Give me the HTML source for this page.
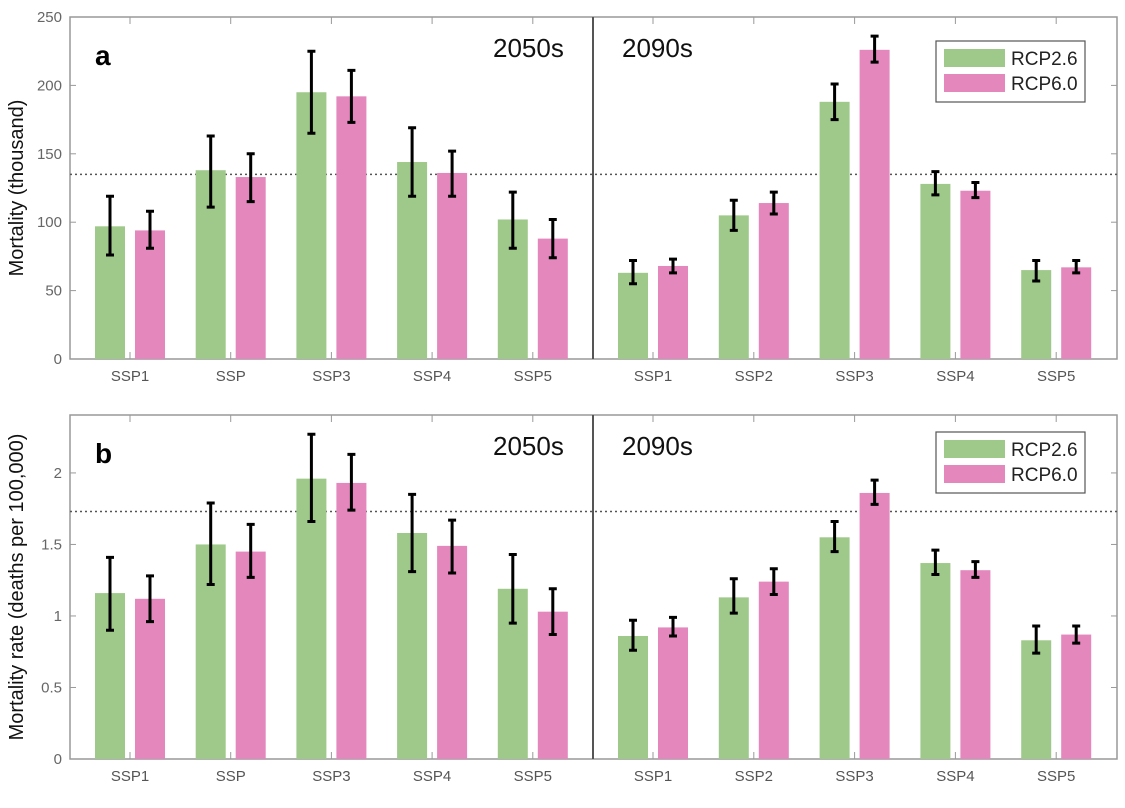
<!DOCTYPE html>
<html><head><meta charset="utf-8"><style>
body{margin:0;background:#fff;}
svg{display:block;font-family:"Liberation Sans",sans-serif;}
</style></head><body>
<svg id="chart" width="1125" height="808" viewBox="0 0 1125 808" xmlns="http://www.w3.org/2000/svg"></svg>
<script>
const categoriesLeft = ["SSP1","SSP","SSP3","SSP4","SSP5"];
const categoriesRight = ["SSP1","SSP2","SSP3","SSP4","SSP5"];
const series = ["RCP2.6","RCP6.0"];
// panel a (thousand)
const aTicks = [0,50,100,150,200,250];
const aG50 = [97,138,195,144,102];
const aG50lo = [76,111,165,119,81];
const aG50hi = [119,163,225,169,122];
const aP50 = [94,133,192,136,88];
const aP50lo = [81,115,173,119,74];
const aP50hi = [108,150,211,152,102];
const aG90 = [63,105,188,128,65];
const aG90lo = [55,94,175,120,57];
const aG90hi = [72,116,201,137,72];
const aP90 = [68,114,226,123,67];
const aP90lo = [63,106,217,118,63];
const aP90hi = [73,122,236,129,72];
const aRef = 135;
// panel b (deaths per 100,000)
const bTicks = [0,0.5,1,1.5,2];
const bTickLabels = ["0","0.5","1","1.5","2"];
const bG50 = [1.16,1.50,1.96,1.58,1.19];
const bG50lo = [0.90,1.22,1.66,1.31,0.95];
const bG50hi = [1.41,1.79,2.27,1.85,1.43];
const bP50 = [1.12,1.45,1.93,1.49,1.03];
const bP50lo = [0.96,1.27,1.74,1.30,0.87];
const bP50hi = [1.28,1.64,2.13,1.67,1.19];
const bG90 = [0.86,1.13,1.55,1.37,0.83];
const bG90lo = [0.76,1.02,1.45,1.29,0.74];
const bG90hi = [0.97,1.26,1.66,1.46,0.93];
const bP90 = [0.92,1.24,1.86,1.32,0.87];
const bP90lo = [0.86,1.15,1.78,1.27,0.81];
const bP90hi = [0.99,1.33,1.95,1.38,0.93];
const bRef = 1.73;

const NS="http://www.w3.org/2000/svg";
const svg=document.getElementById('chart');
function mk(tag,attrs,parent){const e=document.createElementNS(NS,tag);for(const k in attrs)e.setAttribute(k,attrs[k]);(parent||svg).appendChild(e);return e;}
const X0=70,X1=1117,DIV=593;
function xPos(i){return i<5?130+100.7*i:653+100.8*(i-5);}
const GREEN="#9fc98a",PINK="#e387bd";

function panel(cfg){
  const g=mk('g',{});
  
  
  const y=v=>cfg.y0-(v-0)*(cfg.y0-cfg.yTop)/cfg.max;
  const fr=mk('rect',{x:X0,y:cfg.yTop,width:X1-X0,height:cfg.y0-cfg.yTop,fill:'none',stroke:'#999','stroke-width':1.5},g);
  
  cfg.ticks.forEach((t,k)=>{
    const yy=y(t);
    const tl=mk('line',{x1:X0,x2:X0+6,y1:yy,y2:yy,stroke:'#999'},g);
    
    mk('line',{x1:X1,x2:X1-6,y1:yy,y2:yy,stroke:'#999'},g);
    const tx=mk('text',{x:X0-8,y:yy+5,'text-anchor':'end','font-size':15,fill:'#666'},g);
    tx.textContent=cfg.tickLabels[k];
    
  });
  for(let i=0;i<10;i++){
    const xx=xPos(i);
    mk('line',{x1:xx,x2:xx,y1:cfg.yTop,y2:cfg.yTop+7,stroke:'#999'},g);
    mk('line',{x1:xx,x2:xx,y1:cfg.y0,y2:cfg.y0-7,stroke:'#999'},g);
    const lab=mk('text',{x:xx,y:cfg.y0+22,'text-anchor':'middle','font-size':15,fill:'#555'},g);
    lab.textContent=i<5?categoriesLeft[i]:categoriesRight[i-5];
    
  }
  const rl=mk('line',{x1:X0,x2:X1,y1:y(cfg.ref),y2:y(cfg.ref),stroke:'#555','stroke-width':1.5,'stroke-dasharray':'2,3'},g);
  
  const sets=[[cfg.g50,cfg.g50lo,cfg.g50hi,GREEN,-20,0],[cfg.p50,cfg.p50lo,cfg.p50hi,PINK,20,0],[cfg.g90,cfg.g90lo,cfg.g90hi,GREEN,-20,5],[cfg.p90,cfg.p90lo,cfg.p90hi,PINK,20,5]];
  sets.forEach(s=>{
    s[0].forEach((v,j)=>{
      const cx=xPos(j+s[5])+s[4];
      const b=mk('rect',{x:cx-15,y:y(v),width:30,height:cfg.y0-y(v),fill:s[3]},g);
      
      
      const lo=y(s[1][j]),hi=y(s[2][j]);
      const eb=mk('path',{d:`M${cx},${lo}V${hi}M${cx-4},${lo}H${cx+4}M${cx-4},${hi}H${cx+4}`,stroke:'#000','stroke-width':3,fill:'none'},g);
      
    });
  });
  const dv=mk('line',{x1:DIV,x2:DIV,y1:cfg.yTop,y2:cfg.y0,stroke:'#555','stroke-width':2},g);
  
  const pl=mk('text',{x:95,y:cfg.yTop+48,'font-size':28,'font-weight':'bold',fill:'#000'},g);
  pl.textContent=cfg.letter;
  const t1=mk('text',{x:493,y:cfg.yTop+40,'font-size':26,fill:'#111'},g);
  t1.textContent='2050s';
  const t2=mk('text',{x:622,y:cfg.yTop+40,'font-size':26,fill:'#111'},g);
  t2.textContent='2090s';
  const lg=mk('g',{},g);
  
  mk('rect',{x:936,y:cfg.legY,width:149,height:61,fill:'#fff',stroke:'#555','stroke-width':1.2},lg);
  series.forEach((s,k)=>{
    const p=mk('rect',{x:944,y:cfg.legY+8+k*25,width:61,height:18,fill:k?PINK:GREEN},lg);
    
    const t=mk('text',{x:1011,y:cfg.legY+24+k*25,'font-size':19,fill:'#222'},lg);
    t.textContent=s;
  });
  const yt=mk('text',{x:0,y:0,'font-size':cfg.titleSize,fill:'#111','text-anchor':'middle',transform:`translate(${cfg.titleX},${(cfg.yTop+cfg.y0)/2}) rotate(-90)`},g);
  yt.textContent=cfg.title;
}
panel({name:'panel-a',letter:'a',yTop:17,y0:359,max:250,ticks:aTicks,tickLabels:aTicks.map(String),ref:aRef,
  g50:aG50,g50lo:aG50lo,g50hi:aG50hi,p50:aP50,p50lo:aP50lo,p50hi:aP50hi,g90:aG90,g90lo:aG90lo,g90hi:aG90hi,p90:aP90,p90lo:aP90lo,p90hi:aP90hi,
  legY:41,title:'Mortality (thousand)',titleSize:20,titleX:23});
panel({name:'panel-b',letter:'b',yTop:415,y0:759,max:2.405,ticks:bTicks,tickLabels:bTickLabels,ref:bRef,
  g50:bG50,g50lo:bG50lo,g50hi:bG50hi,p50:bP50,p50lo:bP50lo,p50hi:bP50hi,g90:bG90,g90lo:bG90lo,g90hi:bG90hi,p90:bP90,p90lo:bP90lo,p90hi:bP90hi,
  legY:432,title:'Mortality rate (deaths per 100,000)',titleSize:20,titleX:23});
</script>
</body></html>
